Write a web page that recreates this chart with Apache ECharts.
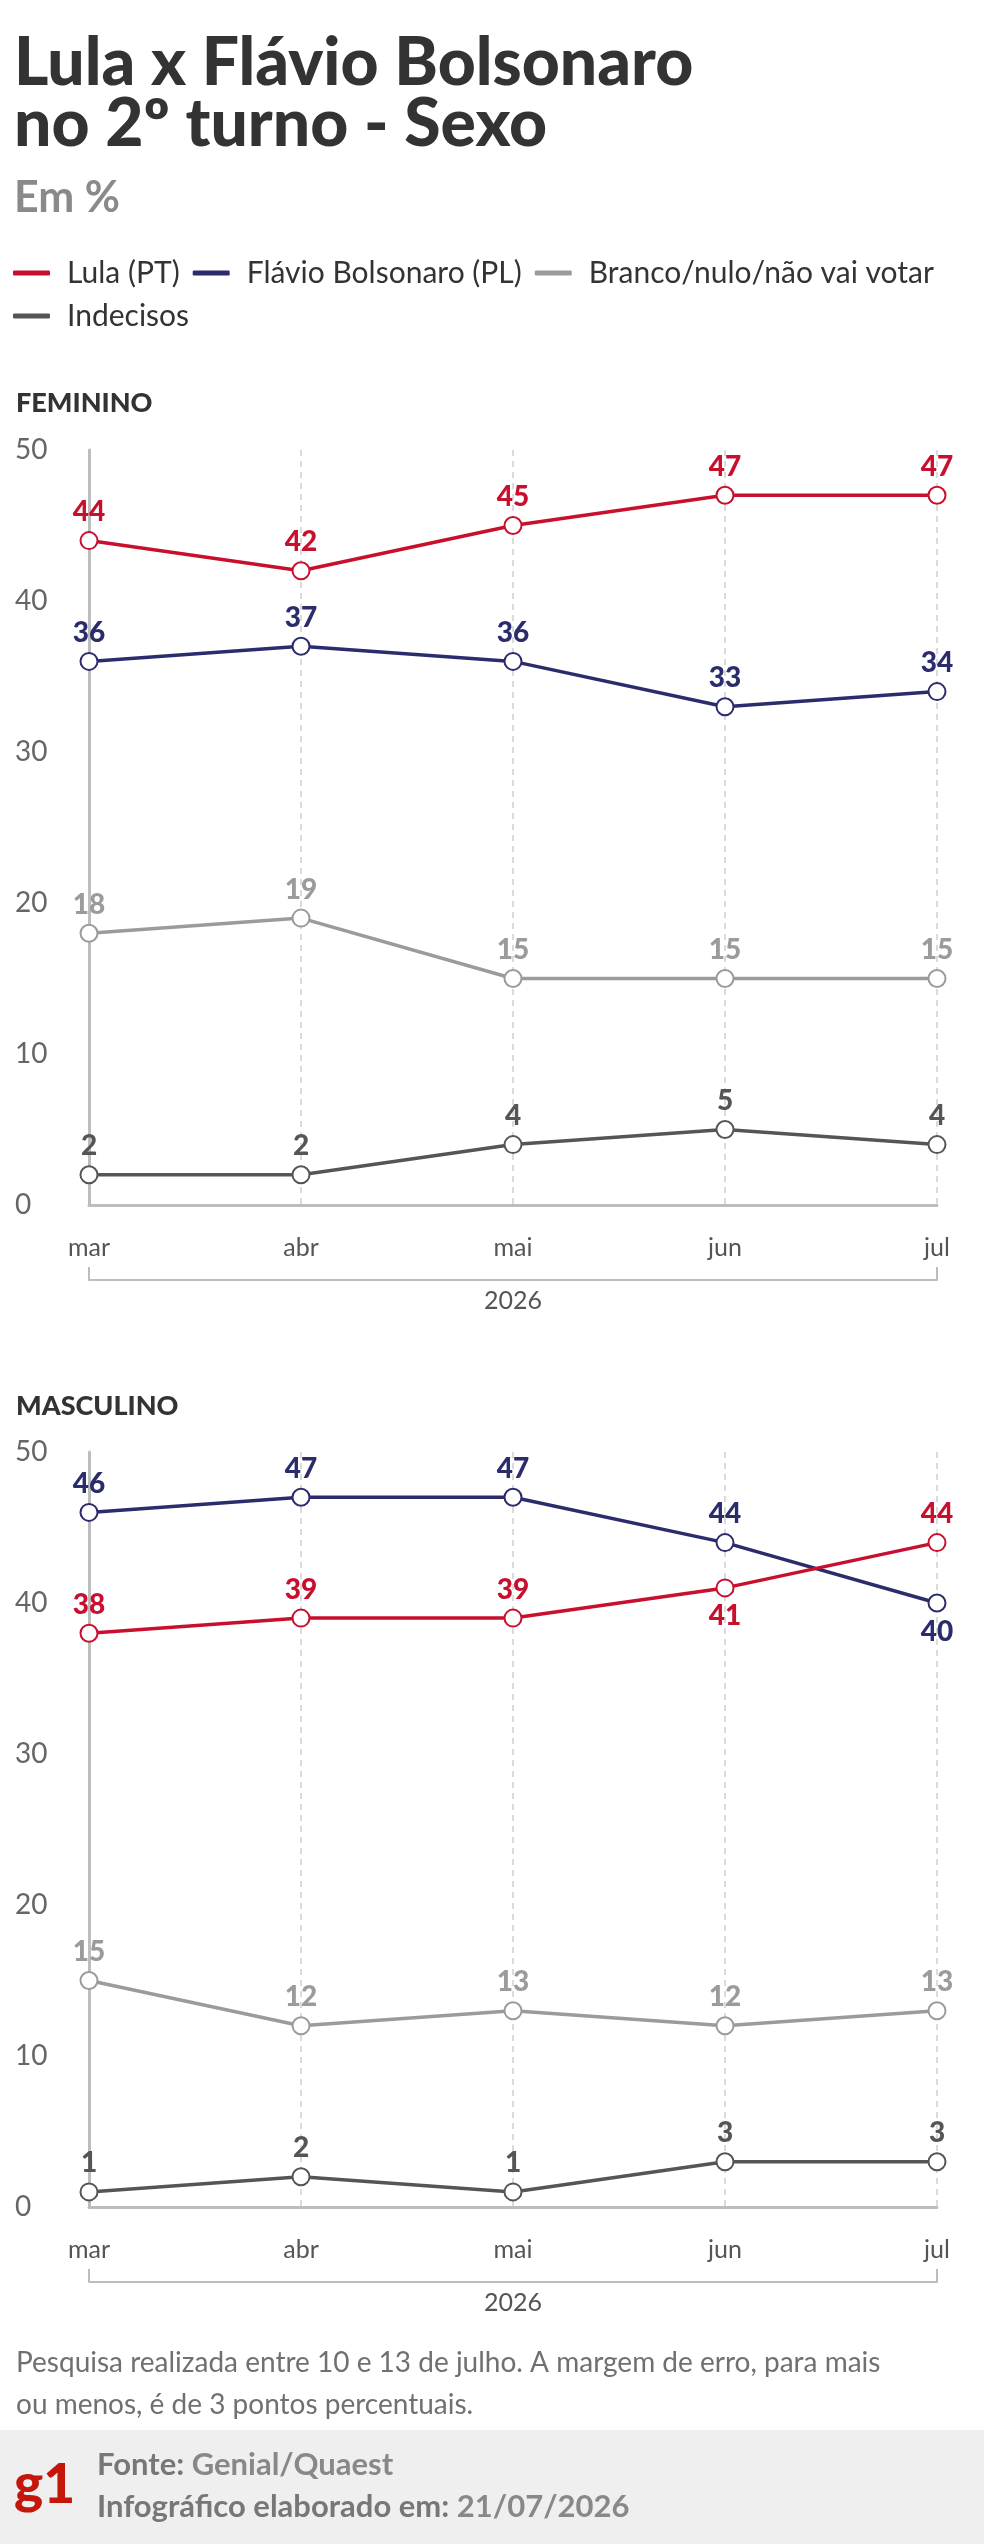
<!DOCTYPE html>
<html lang="pt-BR">
<head>
<meta charset="UTF-8">
<title>Lula x Flávio Bolsonaro no 2º turno - Sexo</title>
<script src="https://cdn.jsdelivr.net/npm/echarts@6/dist/echarts.min.js"></script>
<style>
    html, body { margin: 0; padding: 0; background: #fff; }
    #main { width: 984px; height: 2544px; }
</style>
</head>
<body>
<div id="main"></div>

<script type="text/javascript">
    // dados
    var meses = ['mar', 'abr', 'mai', 'jun', 'jul'];
    var nomes = ['Lula (PT)', 'Flávio Bolsonaro (PL)', 'Branco/nulo/não vai votar', 'Indecisos'];
    var cores = ['#c8102e', '#2b2c6c', '#9b9b9b', '#555555'];

    // feminino
    var femLula = [44, 42, 45, 47, 47];
    var femFlavio = [36, 37, 36, 33, 34];
    var femBranco = [18, 19, 15, 15, 15];
    var femIndecisos = [2, 2, 4, 5, 4];

    // masculino
    var mascLula = [38, 39, 39, 41, 44];
    var mascFlavio = [46, 47, 47, 44, 40];
    var mascBranco = [15, 12, 13, 12, 13];
    var mascIndecisos = [1, 2, 1, 3, 3];

    // meses em que o rótulo fica embaixo do ponto
    var mascLulaAbaixo = [3];
    var mascFlavioAbaixo = [4];

    var fonte = 'Lato, "Noto Sans", sans-serif';

    var myChart = echarts.init(document.getElementById('main'));

    function serie(idx, dados, grid, abaixo) {
        var cor = cores[idx];
        return {
            name: nomes[idx],
            type: 'line',
            xAxisIndex: grid * 2,
            yAxisIndex: grid,
            data: dados.map(function (v, i) {
                if (abaixo && abaixo.indexOf(i) >= 0) {
                    return { value: v, label: { position: 'bottom' } };
                }
                return v;
            }),
            symbol: 'emptyCircle',
            symbolSize: 17,
            itemStyle: { color: cor, borderWidth: 3.5 },
            lineStyle: { color: cor, width: 3.5 },
            label: {
                show: true, position: 'top', distance: 5,
                color: cor, fontSize: 28, fontWeight: 900, fontFamily: fonte
            },
            emphasis: { disabled: true }
        };
    }

    function eixoCat(grid) {
        return {
            type: 'category', gridIndex: grid, data: meses, boundaryGap: false,
            axisLine: { show: true, lineStyle: { color: '#bdbdbd', width: 3 } },
            axisTick: { show: false },
            axisLabel: { color: '#555', fontSize: 25, fontFamily: fonte, margin: 30 },
            splitLine: { show: true, lineStyle: { color: '#d0d0d0', width: 1.5, type: [6, 5] } }
        };
    }

    // colchete do ano embaixo dos meses
    function eixoAno(grid) {
        return {
            type: 'value', gridIndex: grid, min: 0, max: 1, interval: 1,
            position: 'bottom', offset: 75,
            axisLine: { show: true, lineStyle: { color: '#bdbdbd', width: 2 } },
            axisTick: { show: true, inside: true, length: 13, lineStyle: { color: '#bdbdbd', width: 2 } },
            axisLabel: { show: false },
            splitLine: { show: false },
            name: '2026', nameLocation: 'middle', nameGap: 8,
            nameTextStyle: { color: '#555', fontSize: 25, fontFamily: fonte }
        };
    }

    function eixoY(grid) {
        return {
            type: 'value', gridIndex: grid, min: 0, max: 50, interval: 10,
            axisLine: { show: true, lineStyle: { color: '#bdbdbd', width: 3 } },
            axisTick: { show: false },
            splitLine: { show: false },
            axisLabel: { color: '#666', fontSize: 28, fontFamily: fonte, align: 'left', margin: 74 }
        };
    }

    myChart.setOption({
        animation: false,
        title: [
            {
                text: 'Lula x Flávio Bolsonaro\nno 2º turno - Sexo',
                subtext: 'Em %',
                left: 14, top: 33, padding: 0, itemGap: 16,
                textStyle: { fontFamily: fonte, fontSize: 66, fontWeight: 900, color: '#333', lineHeight: 61 },
                subtextStyle: { fontFamily: fonte, fontSize: 43, fontWeight: 'bold', color: '#8a8a8a', lineHeight: 44 }
            },
            {
                text: 'FEMININO', left: 16, top: 390, padding: 0,
                textStyle: { fontFamily: fonte, fontSize: 27, fontWeight: 900, color: '#333' }
            },
            {
                text: 'MASCULINO', left: 16, top: 1393, padding: 0,
                textStyle: { fontFamily: fonte, fontSize: 27, fontWeight: 900, color: '#333' }
            },
            {
                text: 'Pesquisa realizada entre 10 e 13 de julho. A margem de erro, para mais\nou menos, é de 3 pontos percentuais.',
                left: 16, top: 2342, padding: 0,
                textStyle: { fontFamily: fonte, fontSize: 28, fontWeight: 'normal', color: '#707070', lineHeight: 42 }
            },
            {
                text: 'g1', left: 14, top: 2458, padding: 0,
                textStyle: { fontFamily: fonte, fontSize: 55, fontWeight: 900, color: '#c4170c', lineHeight: 55 }
            },
            {
                text: '{b|Fonte:} {n|Genial/Quaest}\n{b|Infográfico elaborado em:} {n|21/07/2026}',
                left: 97, top: 2444, padding: 0,
                textStyle: {
                    fontFamily: fonte, fontSize: 31, lineHeight: 42,
                    rich: {
                        b: { fontFamily: fonte, fontSize: 31, fontWeight: 'bold', color: '#777', lineHeight: 42 },
                        n: { fontFamily: fonte, fontSize: 31, color: '#888', lineHeight: 42 }
                    }
                }
            }
        ],
        graphic: [
            {
                type: 'rect', left: 0, top: 2430, z: -10,
                shape: { width: 984, height: 114 },
                style: { fill: '#efefef' }
            }
        ],
        legend: {
            left: 13, top: 258, width: 950, padding: 0,
            icon: 'roundRect', itemWidth: 37, itemHeight: 5, itemGap: 13,
            selectedMode: false,
            textStyle: { fontFamily: fonte, fontSize: 30, color: '#333', lineHeight: 30, padding: [0, 0, 0, 12] },
            data: nomes.map(function (n, i) {
                return { name: n, itemStyle: { color: cores[i], borderWidth: 0 } };
            })
        },
        grid: [
            { left: 89, right: 47, top: 450, height: 755 },
            { left: 89, right: 47, top: 1452, height: 755 }
        ],
        xAxis: [eixoCat(0), eixoAno(0), eixoCat(1), eixoAno(1)],
        yAxis: [eixoY(0), eixoY(1)],
        series: [
            serie(3, femIndecisos, 0),
            serie(2, femBranco, 0),
            serie(1, femFlavio, 0),
            serie(0, femLula, 0),
            serie(3, mascIndecisos, 1),
            serie(2, mascBranco, 1),
            serie(1, mascFlavio, 1, mascFlavioAbaixo),
            serie(0, mascLula, 1, mascLulaAbaixo)
        ]
    });
</script>
</body>
</html>
